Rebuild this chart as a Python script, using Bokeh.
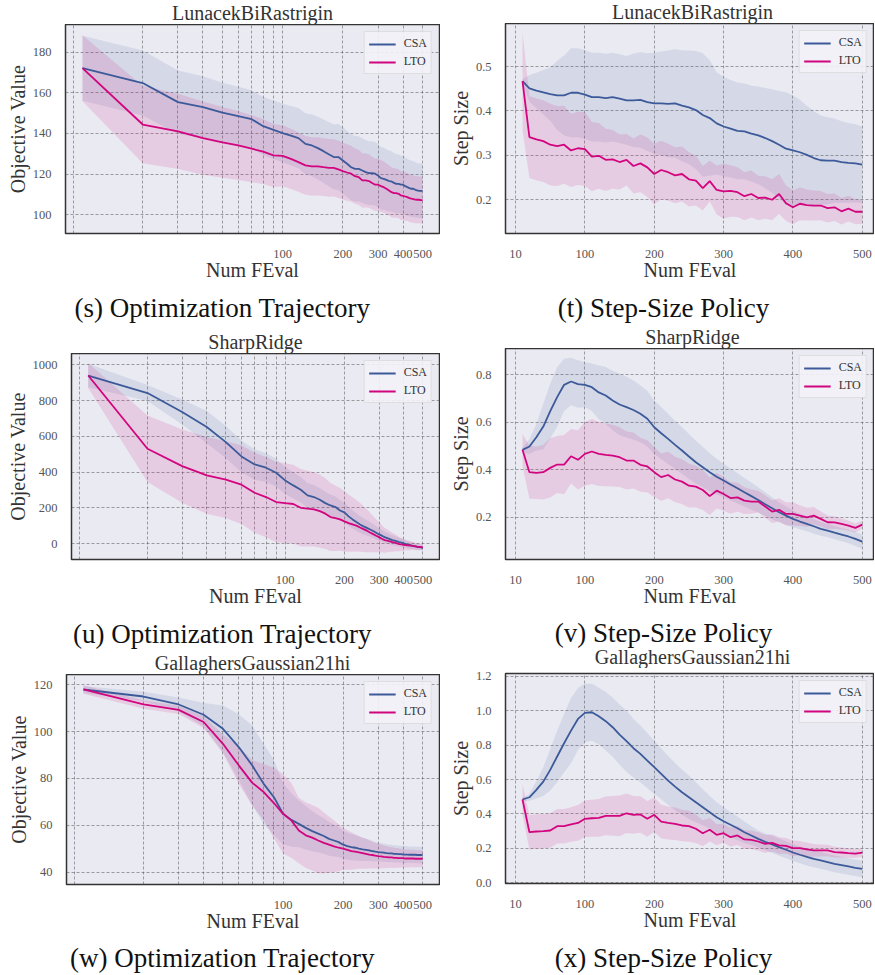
from bokeh.plotting import figure
from bokeh.layouts import column, row
from bokeh.models import (FixedTicker, Legend, LegendItem, ColumnDataSource,
                          NumeralTickFormatter, Range1d)
from bokeh.core.properties import value
from bokeh.embed import file_html
from bokeh.resources import INLINE

FONT = "Liberation Serif"
BG = "#EAEAF2"
CSA_C = "#3C5A99"
LTO_C = "#D2047E"

X = [10, 20, 30, 40, 50, 60, 70, 80, 90, 100, 110, 120, 130, 140, 150, 160, 170, 180, 190, 200,
     210, 220, 230, 240, 250, 260, 270, 280, 290, 300, 310, 320, 330, 340, 350, 360, 370, 380, 390, 400,
     410, 420, 430, 440, 450, 460, 470, 480, 490, 500]

# ---------- LunacekBiRastrigin ----------
S_CSA = [172.1, 164.8, 155.4, 153.0, 150.2, 148.5, 147.0, 143.6, 141.8, 140.2, 138.9, 137.7, 134.9, 134.1, 132.8,
         131.3, 129.8, 128.4, 128.4, 126.7, 125.1, 123.4, 122.6, 122.6, 121.8, 121.0, 120.5, 120.5, 120.2, 119.3,
         118.0, 117.7, 117.2, 116.6, 116.4, 115.7, 115.2, 115.2, 114.8, 114.8, 114.1, 113.6, 113.1, 112.8, 112.8,
         112.3, 112.0, 111.8, 111.8, 111.8]
S_CSA_SD = [16.0, 16.0, 15.6, 15.2, 14.8, 14.5, 14.2, 14.3, 14.4, 14.4, 14.6, 14.8, 15.0, 15.2, 15.4,
            15.6, 15.8, 16.0, 16.2, 16.4, 16.3, 16.2, 16.1, 16.0, 15.9, 15.8, 15.7, 15.7, 15.6, 15.6,
            15.4, 15.3, 15.1, 15.0, 14.9, 14.7, 14.6, 14.5, 14.3, 14.2, 14.1, 14.0, 13.9, 13.8, 13.7,
            13.6, 13.5, 13.4, 13.4, 13.3]
S_LTO = [172.1, 144.4, 141.0, 137.7, 135.6, 134.1, 132.5, 131.1, 129.2, 129.0, 127.5, 125.9, 124.3, 123.8, 123.8,
         123.4, 123.1, 123.1, 122.3, 121.5, 120.8, 120.2, 119.0, 118.5, 116.9, 116.9, 116.6, 115.6, 114.8, 114.8,
         114.1, 113.6, 112.8, 112.0, 111.1, 110.7, 110.7, 110.3, 109.5, 109.3, 109.0, 108.7, 108.2, 107.9, 107.7,
         107.5, 107.4, 107.4, 107.2, 107.2]
S_LTO_SD = [16.2, 19.0, 18.5, 18.0, 17.4, 17.0, 16.5, 16.0, 15.5, 15.0, 14.8, 14.6, 14.5, 14.4, 14.3,
            14.2, 14.2, 14.1, 14.1, 14.0, 13.9, 13.8, 13.6, 13.5, 13.4, 13.3, 13.1, 13.0, 12.9, 12.8,
            12.7, 12.6, 12.5, 12.4, 12.3, 12.2, 12.1, 12.0, 12.0, 11.9, 11.9, 11.8, 11.8, 11.7, 11.7,
            11.6, 11.6, 11.5, 11.5, 11.5]

T_CSA = [0.467, 0.451, 0.446, 0.442, 0.438, 0.435, 0.435, 0.441, 0.441, 0.437, 0.431, 0.431, 0.429, 0.431, 0.428,
         0.424, 0.424, 0.425, 0.420, 0.417, 0.417, 0.416, 0.417, 0.412, 0.408, 0.402, 0.391, 0.384, 0.372, 0.365,
         0.360, 0.355, 0.354, 0.349, 0.345, 0.339, 0.332, 0.324, 0.315, 0.311, 0.307, 0.301, 0.294, 0.289, 0.288,
         0.288, 0.285, 0.283, 0.282, 0.279]
T_CSA_SD = [0.005, 0.030, 0.040, 0.050, 0.060, 0.078, 0.090, 0.100, 0.100, 0.100, 0.100, 0.100, 0.100, 0.100, 0.100,
            0.100, 0.105, 0.108, 0.110, 0.114, 0.117, 0.120, 0.122, 0.125, 0.128, 0.133, 0.139, 0.130, 0.115, 0.112,
            0.110, 0.109, 0.108, 0.108, 0.110, 0.113, 0.117, 0.121, 0.127, 0.124, 0.118, 0.111, 0.106, 0.101, 0.098,
            0.095, 0.092, 0.090, 0.088, 0.086]
T_LTO = [0.467, 0.341, 0.336, 0.332, 0.324, 0.321, 0.324, 0.311, 0.316, 0.314, 0.297, 0.299, 0.290, 0.291, 0.285,
         0.290, 0.276, 0.282, 0.273, 0.258, 0.267, 0.262, 0.255, 0.258, 0.246, 0.243, 0.226, 0.242, 0.222, 0.219,
         0.220, 0.217, 0.208, 0.213, 0.204, 0.205, 0.200, 0.213, 0.192, 0.183, 0.191, 0.188, 0.187, 0.187, 0.181,
         0.183, 0.174, 0.180, 0.173, 0.173]
T_LTO_SD = [0.110, 0.092, 0.092, 0.092, 0.092, 0.090, 0.088, 0.082, 0.083, 0.083, 0.078, 0.074, 0.070, 0.066, 0.062,
            0.058, 0.062, 0.065, 0.067, 0.068, 0.066, 0.064, 0.063, 0.062, 0.061, 0.056, 0.050, 0.046, 0.055, 0.062,
            0.058, 0.056, 0.054, 0.053, 0.050, 0.048, 0.046, 0.045, 0.040, 0.038, 0.037, 0.035, 0.034, 0.033, 0.032,
            0.031, 0.030, 0.029, 0.028, 0.027]

# ---------- SharpRidge ----------
U_CSA = [940, 842, 736, 652, 568, 488, 443, 425, 397, 354, 326, 302, 270, 261, 246,
         227, 214, 205, 186, 175, 153, 136, 121, 108, 97, 89, 80, 71, 61, 52,
         45, 37, 32, 26, 20, 17, 13, 9, 6, 2, -2, -6, -7, -11, -13,
         -15, -17, -19, -20, -24]
U_CSA_SD = [66, 45, 70, 90, 90, 89, 85, 80, 78, 75, 73, 71, 69, 67, 65,
            63, 61, 59, 57, 55, 53, 51, 49, 47, 45, 43, 41, 39, 37, 35,
            33, 32, 30, 29, 28, 27, 25, 24, 23, 22, 21, 20, 19, 18, 18,
            17, 17, 16, 16, 15]
U_LTO = [940, 531, 434, 382, 358, 330, 285, 261, 233, 227, 222, 201, 196, 192, 182,
         168, 149, 143, 136, 125, 115, 108, 101, 91, 82, 73, 63, 54, 45, 37,
         28, 20, 17, 13, 9, 6, 2, -2, -4, -6, -7, -9, -11, -11, -13,
         -15, -17, -17, -19, -19]
U_LTO_SD = [70, 186, 205, 215, 215, 220, 223, 224, 224, 223, 220, 216, 212, 208, 205,
            198, 190, 183, 175, 168, 160, 152, 144, 136, 128, 120, 110, 101, 92, 84,
            76, 70, 64, 58, 53, 48, 44, 40, 36, 33, 30, 28, 26, 24, 22,
            21, 20, 19, 18, 18]

V_CSA = [0.484, 0.498, 0.537, 0.582, 0.647, 0.706, 0.758, 0.772, 0.761, 0.758, 0.748, 0.726, 0.713, 0.692, 0.675,
         0.664, 0.652, 0.636, 0.615, 0.579, 0.554, 0.530, 0.505, 0.481, 0.456, 0.432, 0.411, 0.390, 0.371, 0.355,
         0.338, 0.322, 0.305, 0.289, 0.273, 0.255, 0.238, 0.221, 0.207, 0.193, 0.182, 0.172, 0.162, 0.151, 0.144,
         0.135, 0.127, 0.119, 0.109, 0.097]
V_CSA_SD = [0.010, 0.032, 0.056, 0.096, 0.115, 0.126, 0.110, 0.100, 0.100, 0.095, 0.100, 0.113, 0.120, 0.125, 0.130,
            0.128, 0.124, 0.120, 0.117, 0.113, 0.110, 0.106, 0.102, 0.098, 0.095, 0.090, 0.085, 0.080, 0.075, 0.070,
            0.067, 0.064, 0.060, 0.057, 0.053, 0.050, 0.046, 0.042, 0.039, 0.035, 0.033, 0.031, 0.030, 0.029, 0.028,
            0.028, 0.028, 0.029, 0.030, 0.030]
V_LTO = [0.484, 0.390, 0.387, 0.390, 0.408, 0.422, 0.422, 0.457, 0.442, 0.467, 0.477, 0.467, 0.463, 0.460, 0.453,
         0.439, 0.439, 0.421, 0.414, 0.390, 0.369, 0.378, 0.359, 0.350, 0.333, 0.329, 0.315, 0.289, 0.312, 0.298,
         0.281, 0.284, 0.270, 0.266, 0.266, 0.245, 0.224, 0.231, 0.214, 0.214, 0.207, 0.200, 0.207, 0.193, 0.179,
         0.178, 0.172, 0.165, 0.155, 0.169]
V_LTO_SD = [0.067, 0.112, 0.110, 0.115, 0.125, 0.120, 0.125, 0.115, 0.125, 0.134, 0.137, 0.135, 0.132, 0.130, 0.126,
            0.122, 0.118, 0.114, 0.110, 0.105, 0.100, 0.098, 0.096, 0.094, 0.092, 0.088, 0.084, 0.080, 0.075, 0.071,
            0.066, 0.061, 0.056, 0.051, 0.046, 0.047, 0.048, 0.049, 0.049, 0.049, 0.044, 0.040, 0.036, 0.032, 0.028,
            0.026, 0.024, 0.021, 0.019, 0.017]

# ---------- GallaghersGaussian21hi ----------
W_CSA = [118.0, 115.0, 111.6, 107.2, 101.2, 93.4, 85.6, 77.7, 72.0, 64.9, 62.3, 60.6, 58.9, 57.5, 56.4,
         55.4, 54.2, 53.5, 52.8, 51.7, 51.1, 50.7, 50.4, 50.0, 49.7, 49.5, 49.3, 49.0, 48.7, 48.5,
         48.4, 48.3, 48.1, 48.0, 48.0, 47.8, 47.8, 47.7, 47.7, 47.5, 47.5, 47.5, 47.4, 47.4, 47.4,
         47.4, 47.3, 47.3, 47.3, 47.3]
W_CSA_SD = [1.5, 2.0, 3.0, 5.0, 10.0, 14.0, 17.0, 17.0, 16.0, 13.0, 11.5, 10.0, 9.3, 8.6, 8.0,
            7.6, 7.2, 6.8, 6.4, 6.0, 5.8, 5.6, 5.4, 5.2, 5.0, 4.8, 4.6, 4.4, 4.2, 4.0,
            3.9, 3.9, 3.8, 3.8, 3.7, 3.7, 3.7, 3.6, 3.6, 3.6, 3.6, 3.5, 3.5, 3.5, 3.5,
            3.5, 3.5, 3.5, 3.5, 3.5]
W_LTO = [118.0, 111.6, 109.3, 104.1, 94.8, 85.6, 78.2, 74.2, 69.5, 64.9, 62.1, 57.8, 55.7, 54.7, 53.5,
         52.5, 51.7, 51.0, 50.4, 50.0, 49.5, 49.0, 48.7, 48.4, 48.1, 47.8, 47.5, 47.3, 47.0, 46.8,
         46.7, 46.5, 46.4, 46.3, 46.3, 46.1, 46.1, 46.0, 46.0, 46.0, 45.8, 45.8, 45.8, 45.8, 45.8,
         45.7, 45.7, 45.7, 45.7, 45.7]
W_LTO_SD = [1.8, 1.8, 1.8, 2.5, 4.0, 8.0, 9.6, 12.0, 15.0, 17.0, 16.0, 14.0, 14.0, 14.0, 14.0,
            13.0, 12.0, 11.0, 10.0, 9.0, 8.5, 8.0, 7.5, 7.0, 6.7, 6.4, 6.0, 5.8, 5.5, 5.3,
            5.1, 4.9, 4.7, 4.5, 4.4, 4.3, 4.2, 4.1, 4.0, 3.9, 3.9, 3.8, 3.8, 3.7, 3.7,
            3.7, 3.6, 3.6, 3.6, 3.6]

XX_CSA = [0.484, 0.497, 0.540, 0.588, 0.656, 0.734, 0.811, 0.884, 0.952, 0.987, 0.991, 0.968, 0.939, 0.904, 0.861,
          0.823, 0.782, 0.749, 0.710, 0.672, 0.633, 0.594, 0.559, 0.526, 0.497, 0.468, 0.439, 0.410, 0.381, 0.358,
          0.337, 0.317, 0.294, 0.275, 0.255, 0.238, 0.223, 0.207, 0.192, 0.176, 0.163, 0.151, 0.139, 0.130, 0.120,
          0.110, 0.103, 0.095, 0.087, 0.081]
XX_CSA_SD = [0.010, 0.020, 0.050, 0.084, 0.120, 0.150, 0.170, 0.190, 0.180, 0.170, 0.165, 0.165, 0.170, 0.172, 0.175,
             0.178, 0.170, 0.165, 0.160, 0.154, 0.148, 0.142, 0.137, 0.131, 0.126, 0.116, 0.105, 0.095, 0.087, 0.081,
             0.074, 0.068, 0.062, 0.055, 0.049, 0.049, 0.050, 0.050, 0.050, 0.050, 0.050, 0.050, 0.049, 0.049, 0.049,
             0.049, 0.049, 0.048, 0.048, 0.048]
XX_LTO = [0.484, 0.294, 0.298, 0.300, 0.304, 0.329, 0.329, 0.339, 0.348, 0.372, 0.375, 0.377, 0.389, 0.389, 0.389,
          0.404, 0.395, 0.397, 0.372, 0.395, 0.356, 0.348, 0.343, 0.333, 0.329, 0.314, 0.288, 0.308, 0.279, 0.288,
          0.265, 0.275, 0.252, 0.250, 0.240, 0.226, 0.232, 0.217, 0.215, 0.201, 0.201, 0.194, 0.188, 0.188, 0.188,
          0.178, 0.176, 0.172, 0.170, 0.176]
XX_LTO_SD = [0.090, 0.100, 0.100, 0.100, 0.100, 0.100, 0.100, 0.100, 0.104, 0.106, 0.108, 0.110, 0.112, 0.115, 0.118,
             0.115, 0.110, 0.106, 0.104, 0.100, 0.098, 0.096, 0.094, 0.092, 0.090, 0.083, 0.075, 0.068, 0.061, 0.055,
             0.055, 0.055, 0.054, 0.054, 0.054, 0.052, 0.050, 0.048, 0.046, 0.045, 0.042, 0.040, 0.037, 0.035, 0.033,
             0.031, 0.029, 0.027, 0.026, 0.025]

LOG_XTICKS = [100, 200, 300, 400, 500]
LOG_XGRID = [9, 20, 30, 40, 50, 60, 70, 80, 90, 100, 200, 300, 400, 500]
LIN_XTICKS = [0, 100, 200, 300, 400, 500]
LIN_XLABELS = {0: "10", 100: "100", 200: "200", 300: "300", 400: "400", 500: "500"}

TITLES = ["LunacekBiRastrigin", "SharpRidge", "GallaghersGaussian21hi"]
CAPTIONS_L = ["(s) Optimization Trajectory", "(u) Optimization Trajectory", "(w) Optimization Trajectory"]
CAPTIONS_R = ["(t) Step-Size Policy", "(v) Step-Size Policy", "(x) Step-Size Policy"]


def no_align(p):
    try:
        p.frame_align = False
    except Exception:
        pass
    return p


def make_panel(ylabel, logx, csa, csa_sd, lto, lto_sd, yr, yticks, yfmt,
               width, height, mbl, mbr, mbt, mbb):
    xr = (8.225, 608.0) if logx else (-14.5, 517.6)
    p = figure(width=width, height=height, min_border_left=mbl, min_border_right=mbr,
               min_border_top=mbt, min_border_bottom=mbb,
               x_axis_type="log" if logx else "linear",
               x_range=Range1d(*xr), y_range=Range1d(*yr),
               toolbar_location=None, output_backend="svg",
               background_fill_color=BG, border_fill_color="white")
    no_align(p)
    src = ColumnDataSource(dict(
        x=X, csa=csa, lto=lto,
        csa_lo=[m - s for m, s in zip(csa, csa_sd)], csa_hi=[m + s for m, s in zip(csa, csa_sd)],
        lto_lo=[m - s for m, s in zip(lto, lto_sd)], lto_hi=[m + s for m, s in zip(lto, lto_sd)]))
    p.varea(x="x", y1="csa_lo", y2="csa_hi", source=src, fill_color=CSA_C, fill_alpha=0.12)
    p.varea(x="x", y1="lto_lo", y2="lto_hi", source=src, fill_color=LTO_C, fill_alpha=0.13)
    l1 = p.line(x="x", y="csa", source=src, line_color=CSA_C, line_width=1.8)
    l2 = p.line(x="x", y="lto", source=src, line_color=LTO_C, line_width=1.8)

    if logx:
        p.xaxis.ticker = FixedTicker(ticks=LOG_XTICKS)
        p.xgrid.ticker = FixedTicker(ticks=LOG_XGRID)
        p.xaxis.formatter = NumeralTickFormatter(format="0")
    else:
        p.xaxis.ticker = FixedTicker(ticks=LIN_XTICKS)
        p.xgrid.ticker = FixedTicker(ticks=LIN_XTICKS)
        p.xaxis.major_label_overrides = LIN_XLABELS
    p.yaxis.ticker = FixedTicker(ticks=yticks)
    p.ygrid.ticker = FixedTicker(ticks=yticks)
    p.yaxis.formatter = NumeralTickFormatter(format=yfmt)

    p.xaxis.axis_label = "Num FEval"
    p.yaxis.axis_label = ylabel
    for ax in (p.xaxis, p.yaxis):
        ax.axis_line_color = None
        ax.major_tick_line_color = None
        ax.minor_tick_line_color = None
        ax.major_tick_out = 0
        ax.major_tick_in = 0
        ax.major_label_text_font = FONT
        ax.major_label_text_font_size = "12.5px"
        ax.major_label_text_color = "#555555"
        ax.axis_label_text_font = FONT
        ax.axis_label_text_font_size = "20px"
        ax.axis_label_text_font_style = "normal"
        ax.axis_label_text_color = "#333333"
    p.xaxis.major_label_standoff = 16
    p.xaxis.axis_label_standoff = -2
    p.yaxis.major_label_standoff = 14
    p.yaxis.axis_label_standoff = 1

    p.grid.grid_line_color = "#555555"
    p.grid.grid_line_alpha = 0.6
    p.grid.grid_line_dash = "3 2"
    p.grid.grid_line_width = 0.9

    p.outline_line_color = "#333333"
    p.outline_line_width = 1.5
    p.outline_line_alpha = 1.0

    leg = Legend(items=[LegendItem(label="CSA", renderers=[l1]), LegendItem(label="LTO", renderers=[l2])],
                 location="top_right", margin=7, padding=4, spacing=3,
                 glyph_width=27, glyph_height=14, label_height=14, label_standoff=8,
                 label_text_font=FONT, label_text_font_size="12px", label_text_color="#333333",
                 background_fill_color="#F2F2F7", background_fill_alpha=0.9,
                 border_line_color="#CCCCCC", border_line_width=1)
    p.add_layout(leg)
    return p


def text_fig(width, height, caption=None, cap_x=0, cap_top=0, title=None, title_x=0, title_mid=11.5):
    """A plain strip holding a caption (above) and/or the next panel's title (below)."""
    c = figure(width=width, height=height, x_range=Range1d(0, width), y_range=Range1d(0, height),
               min_border_left=0, min_border_right=0, min_border_top=0, min_border_bottom=0,
               toolbar_location=None, output_backend="svg",
               x_axis_type=None, y_axis_type=None, outline_line_color=None,
               background_fill_color="white", border_fill_color="white")
    no_align(c)
    if caption is not None:
        c.text(x=[cap_x], y=[height - cap_top], text=[caption], text_align="center",
               text_baseline="middle", text_font=value(FONT), text_font_size=value("27px"),
               text_color="#111111")
    if title is not None:
        c.text(x=[title_x], y=[title_mid], text=[title], text_align="center",
               text_baseline="middle", text_font=value(FONT), text_font_size=value("20px"),
               text_color="#333333")
    return c


# ---------- left column (width 440) ----------
p_s = make_panel("Objective Value", True, S_CSA, S_CSA_SD, S_LTO, S_LTO_SD,
                 (90.8, 193.6), [100, 120, 140, 160, 180], "0", 440, 266, 65, 1, 0, 57)
p_u = make_panel("Objective Value", True, U_CSA, U_CSA_SD, U_LTO, U_LTO_SD,
                 (-88, 1063), [0, 200, 400, 600, 800, 1000], "0", 440, 262, 71, 1, 0, 56)
p_w = make_panel("Objective Value", True, W_CSA, W_CSA_SD, W_LTO, W_LTO_SD,
                 (34.7, 124.4), [40, 60, 80, 100, 120], "0", 440, 266, 66, 1, 0, 56)

left = column(
    text_fig(440, 24, title=TITLES[0], title_x=252, title_mid=12),
    p_s,
    text_fig(440, 63, caption=CAPTIONS_L[0], cap_x=222, cap_top=17, title=TITLES[1], title_x=255, title_mid=11.5),
    p_u,
    text_fig(440, 59, caption=CAPTIONS_L[1], cap_x=222, cap_top=18, title=TITLES[2], title_x=252, title_mid=11.5),
    p_w,
    text_fig(440, 34, caption=CAPTIONS_L[2], cap_x=222, cap_top=17),
)

# ---------- right column (width 434) ----------
p_t = make_panel("Step Size", False, T_CSA, T_CSA_SD, T_LTO, T_LTO_SD,
                 (0.124, 0.597), [0.2, 0.3, 0.4, 0.5], "0.0", 434, 267, 65, 0, 0, 57)
p_v = make_panel("Step Size", False, V_CSA, V_CSA_SD, V_LTO, V_LTO_SD,
                 (0.022, 0.911), [0.2, 0.4, 0.6, 0.8], "0.0", 434, 267, 65, 0, 0, 56)
# top border keeps the "1.2" tick label inside the canvas
p_x = make_panel("Step Size", False, XX_CSA, XX_CSA_SD, XX_LTO, XX_LTO_SD,
                 (-0.004, 1.216), [0.0, 0.2, 0.4, 0.6, 0.8, 1.0, 1.2], "0.0", 434, 272, 65, 0, 5, 57)

right = column(
    text_fig(434, 23, title=TITLES[0], title_x=252, title_mid=11.5),
    p_t,
    text_fig(434, 58, caption=CAPTIONS_R[0], cap_x=223, cap_top=17, title=TITLES[1], title_x=252, title_mid=11.5),
    p_v,
    text_fig(434, 53, caption=CAPTIONS_R[1], cap_x=223, cap_top=17, title=TITLES[2], title_x=252, title_mid=11.5),
    p_x,
    text_fig(434, 34, caption=CAPTIONS_R[2], cap_x=223, cap_top=17),
)

layout = row(left, right)
open("out.html", "w").write(file_html(layout, INLINE))
